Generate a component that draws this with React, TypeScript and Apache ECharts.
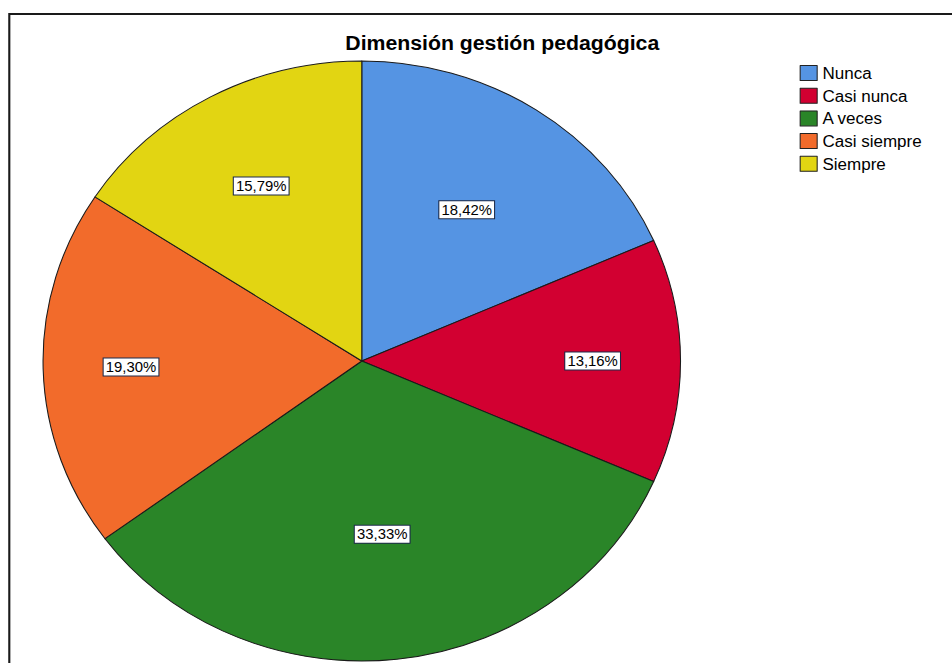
import React, { useEffect, useRef } from "react";
import * as echarts from "echarts";

// Survey answers for the "gestión pedagógica" dimension (percent of respondents)
const categories = ["Nunca", "Casi nunca", "A veces", "Casi siempre", "Siempre"];
const percents = [18.42, 13.16, 33.33, 19.3, 15.79];
const sliceColors = ["#5594E3", "#D20031", "#2A8528", "#F26B2B", "#E2D512"];

// How far out along each slice (fraction of the radius) its label box sits
const labelRadius = [0.59, 0.71, 0.57, 0.71, 0.65];

const TITLE = "Dimensión gestión pedagógica";

// Layout is drawn on a 896px-wide canvas and stretched horizontally to fill 952px
const BASE_W = 896;
const BASE_H = 663;
const STRETCH = 952 / BASE_W;
const CX = 340.5;
const CY = 361;
const R = 300;

const FONT = 'Arial, "Liberation Sans", sans-serif';

const fmtPercent = (v: number) => v.toFixed(2).replace(".", ",") + "%";

export default function App() {
  const ref = useRef<HTMLDivElement>(null);

  useEffect(() => {
    if (!ref.current) return;
    const chart = echarts.init(ref.current, undefined, { renderer: "svg" });

    chart.setOption({
      animation: false,
      backgroundColor: "#ffffff",
      color: sliceColors,
      title: {
        text: TITLE,
        left: 325,
        top: 33,
        padding: 0,
        textStyle: {
          fontFamily: FONT,
          fontSize: 20,
          fontWeight: "bold",
          color: "#000",
        },
      },
      legend: {
        orient: "vertical",
        left: 752.6,
        top: 65,
        padding: 0,
        itemWidth: 16,
        itemHeight: 15,
        itemGap: 6.7,
        icon: "rect",
        selectedMode: false,
        itemStyle: { borderColor: "#222", borderWidth: 1 },
        textStyle: {
          fontFamily: FONT,
          fontSize: 16,
          lineHeight: 15,
          color: "#000",
        },
        data: categories,
      },
      graphic: [
        {
          type: "rect",
          shape: { x: 8.75, y: 14, width: 1200, height: 1200 },
          style: { fill: "none", stroke: "#1a1a1a", lineWidth: 2 },
          silent: true,
          z: 100,
        },
      ],
      series: [
        {
          type: "pie",
          center: [CX, CY],
          radius: R,
          startAngle: 90,
          clockwise: true,
          silent: true,
          itemStyle: { borderColor: "#1a1a1a", borderWidth: 1 },
          label: {
            show: true,
            position: "inside",
            formatter: (p: any) => fmtPercent(p.value),
            fontFamily: FONT,
            fontSize: 14,
            lineHeight: 14,
            color: "#000",
            backgroundColor: "#ffffff",
            borderColor: "#1c2a4a",
            borderWidth: 1,
            padding: [2, 2, 1, 2],
          },
          labelLine: { show: false },
          labelLayout: (params: any) => {
            const rect = params.labelRect;
            const lx = rect.x + rect.width / 2;
            const ly = rect.y + rect.height / 2;
            const k = labelRadius[params.dataIndex] / 0.5 - 1;
            return { dx: (lx - CX) * k, dy: (ly - CY) * k };
          },
          data: categories.map((name, i) => ({ name, value: percents[i] })),
        },
      ],
    });

    return () => chart.dispose();
  }, []);

  return (
    <div
      style={{
        position: "fixed",
        left: 0,
        top: 0,
        width: 952,
        height: BASE_H,
        overflow: "hidden",
        background: "#fff",
      }}
    >
      <div
        ref={ref}
        style={{
          width: BASE_W,
          height: BASE_H,
          transform: `scaleX(${STRETCH})`,
          transformOrigin: "0 0",
        }}
      />
    </div>
  );
}
